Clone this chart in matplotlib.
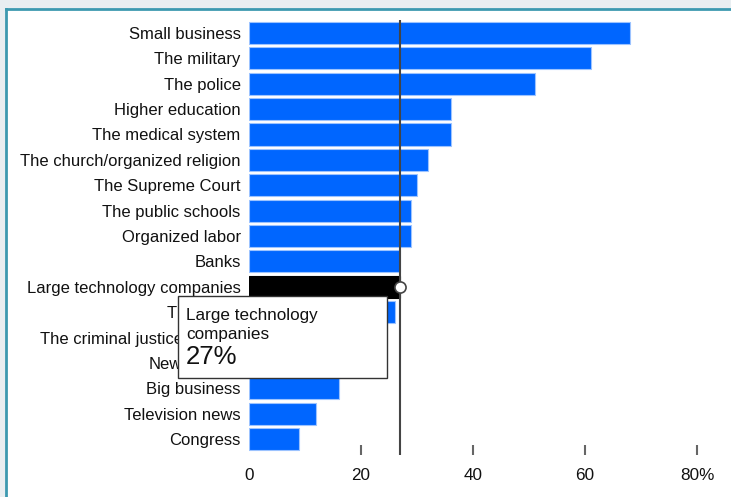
import matplotlib
matplotlib.use('Agg')
import matplotlib.pyplot as plt
from matplotlib.patches import Rectangle
from matplotlib.lines import Line2D
import numpy as np

institutions = ['Small business', 'The military', 'The police', 'Higher education',
                'The medical system', 'The church/organized religion', 'The Supreme Court',
                'The public schools', 'Organized labor', 'Banks', 'Large technology companies',
                'The press', 'The criminal justice system', 'Newspapers', 'Big business',
                'Television news', 'Congress']
confidence = [68, 61, 51, 36, 36, 32, 30, 29, 29, 27, 27, 26, 21, 18, 16, 12, 9]
highlight = 'Large technology companies'
x_ticks = [0, 20, 40, 60, 80]
x_labels = ['0', '20', '40', '60', '80%']

plt.rcParams['font.family'] = ['Liberation Sans', 'DejaVu Sans']

W, H = 731, 497
fig = plt.figure(figsize=(W / 100, H / 100), dpi=100)
fig.patch.set_facecolor('#e9eef1')

# white panel with teal border on left and top
fig.add_artist(Rectangle((6 / W, 0), 1, 1 - 9 / H, transform=fig.transFigure,
                         facecolor='white', edgecolor='none', zorder=0))
fig.add_artist(Line2D([6 / W, 6 / W], [0, 1 - 9 / H], transform=fig.transFigure,
                      color='#3d99b0', lw=2, zorder=1))
fig.add_artist(Line2D([6 / W, 1], [1 - 9 / H, 1 - 9 / H], transform=fig.transFigure,
                      color='#3d99b0', lw=2, zorder=1))

left, right, top, bottom = 249, 697, 20, 455
ax = fig.add_axes([left / W, 1 - bottom / H, (right - left) / W, (bottom - top) / H])
ax.set_facecolor('none')

y = np.arange(len(institutions))
colors = ['#000000' if n == highlight else '#0066ff' for n in institutions]
edges = ['#000000' if n == highlight else '#9cc3ff' for n in institutions]
ax.barh(y, confidence, height=0.87, color=colors, edgecolor=edges, linewidth=0.8, zorder=3)

row_px = 25.4
ax.set_ylim(16 + (bottom - 439) / row_px, -(33 - top) / row_px)
ax.set_xlim(0, 80)

hi = institutions.index(highlight)
hv = confidence[hi]
ax.axvline(hv, color='#444444', lw=1.5, zorder=4)
ax.plot([hv], [hi], marker='o', ms=8, mfc='white', mec='#444444', mew=1.2, zorder=5,
        clip_on=False)

for s in ax.spines.values():
    s.set_visible(False)
ax.set_yticks(y)
ax.set_yticklabels(institutions, fontsize=12, color='#111111')
ax.tick_params(axis='y', length=0, pad=6)
ax.set_xticks(x_ticks)
ax.set_xticklabels(x_labels, fontsize=12.3, color='#111111')
ax.tick_params(axis='x', direction='in', length=7, width=1.5, color='#666666', pad=9)
ax.xaxis.get_major_ticks()[0].tick1line.set_visible(False)

# tooltip
tx0, tx1, ty0, ty1 = 178, 387, 296, 378
fig.add_artist(Rectangle((tx0 / W, 1 - ty1 / H), (tx1 - tx0) / W, (ty1 - ty0) / H,
                         transform=fig.transFigure, facecolor='white',
                         edgecolor='#333333', lw=1, zorder=10))
fig.text(186 / W, 1 - 320 / H, 'Large technology', fontsize=12.3,
         color='#111111', va='baseline', ha='left', zorder=11)
fig.text(186 / W, 1 - 339 / H, 'companies', fontsize=12.3,
         color='#111111', va='baseline', ha='left', zorder=11)
fig.text(186 / W, 1 - 364 / H, f'{hv}%', fontsize=18.5, color='#111111',
         va='baseline', ha='left', zorder=11)

fig.savefig('out.png', dpi=100, facecolor=fig.get_facecolor())
